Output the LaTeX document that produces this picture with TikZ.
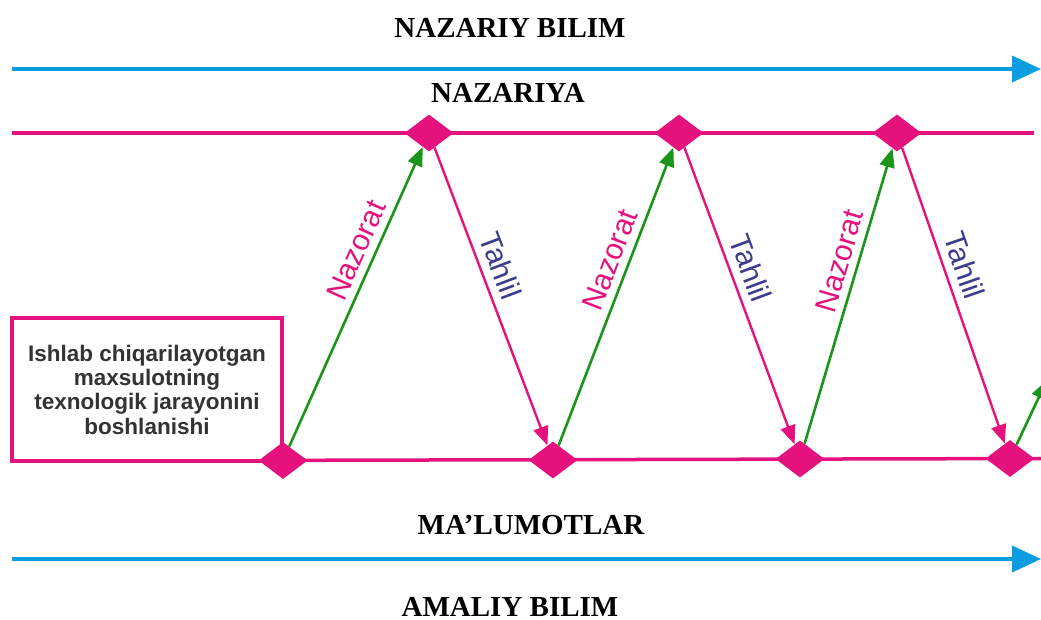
\documentclass[tikz,border=0pt]{standalone}
\usepackage{fontspec}
\setmainfont{Liberation Serif}
\setsansfont{Liberation Sans}
\usetikzlibrary{shapes.geometric,arrows.meta}
\definecolor{mag}{HTML}{E5127D}
\definecolor{sky}{HTML}{0A9EE0}
\definecolor{grn}{HTML}{1A951A}
\definecolor{navy}{HTML}{3C3C8E}
\definecolor{txtgray}{HTML}{333333}
\tikzset{
  title/.style={font=\bfseries\fontsize{29}{34}\selectfont, inner sep=0pt, text=black},
  knot/.style={shape=diamond, fill=mag, draw=none, minimum width=49pt, minimum height=37pt, inner sep=0pt},
  magline/.style={draw=mag, line width=3.5pt},
  bluearrow/.style={draw=sky, line width=4pt, -{Triangle[length=29pt,width=26pt]}},
  ctrl/.style={draw=grn, line width=2.6pt, -{Triangle[length=19pt,width=15pt]}},
  anal/.style={draw=mag, line width=2.4pt, -{Triangle[length=19pt,width=15pt]}},
  nzlab/.style={font=\sffamily\fontsize{30}{33}\selectfont, text=mag, sloped, above=7pt, inner sep=0pt},
  thlab/.style={font=\sffamily\fontsize{30}{33}\selectfont, text=navy, sloped, above=8pt, inner sep=0pt},
  startbox/.style={draw=mag, line width=3.5pt, minimum width=270pt, minimum height=143pt, inner sep=0pt,
    align=center, text=txtgray, font=\sffamily\bfseries\fontsize{22.5}{24.3}\selectfont}
}
\begin{document}
\begin{tikzpicture}[x=1pt,y=-1pt]
\useasboundingbox (0,0) rectangle (1041,619);
\clip (0,0) rectangle (1041,619);
% titles
\node[title] (nb) at (510,28) {NAZARIY BILIM};
\node[title] (nz) at (508,93) {NAZARIYA};
\node[title] (ml) at (531,525) {MA’LUMOTLAR};
\node[title] (ab) at (510,606.5) {AMALIY BILIM};
% blue arrows
\coordinate (ta) at (12,69);
\coordinate (tb) at (1041,69);
\coordinate (ba) at (12,559);
\coordinate (bb) at (1041,559);
\draw[bluearrow] (ta) -- (tb);
\draw[bluearrow] (ba) -- (bb);
% magenta rails
\coordinate (rt1) at (12,133);
\coordinate (rt2) at (1034,133);
\coordinate (rb1) at (12,461);
\coordinate (rb2) at (1045,458.5);
\draw[magline] (rt1) -- (rt2);
\draw[magline] (rb1) -- (rb2);
% start box
\node[startbox, fill=white] (box) at (147,389.5) {Ishlab chiqarilayotgan\\maxsulotning\\texnologik jarayonini\\boshlanishi};
% diamonds
\node[knot] (t1) at (429,133) {};
\node[knot] (t2) at (679,133) {};
\node[knot] (t3) at (897,133) {};
\node[knot] (b1) at (283,460.5) {};
\node[knot] (b2) at (553,460) {};
\node[knot] (b3) at (800,459) {};
\node[knot] (b4) at (1010,458.5) {};
\coordinate (out) at (1047,380);
% connectors
\draw[ctrl] (b1) -- (t1) node[nzlab, pos=0.63] {Nazorat};
\draw[anal] (t1) -- (b2) node[thlab, pos=0.42] {Tahlil};
\draw[ctrl] (b2) -- (t2) node[nzlab, pos=0.60] {Nazorat};
\draw[anal] (t2) -- (b3) node[thlab, pos=0.43] {Tahlil};
\draw[ctrl] (b3) -- (t3) node[nzlab, pos=0.60] {Nazorat};
\draw[anal] (t3) -- (b4) node[thlab, pos=0.42] {Tahlil};
\draw[ctrl] (b4) -- (out);
\end{tikzpicture}
\end{document}
